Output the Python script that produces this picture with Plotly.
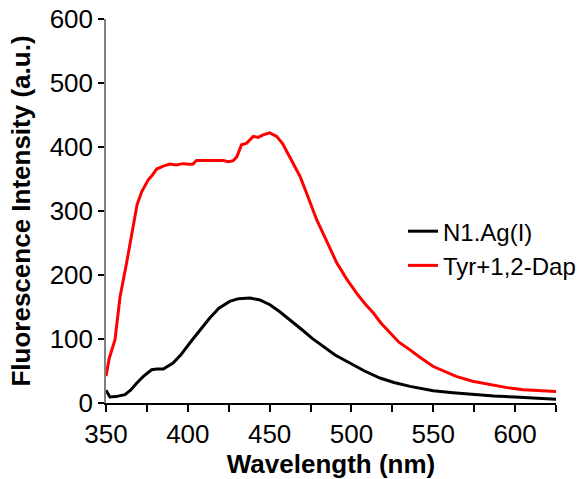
import plotly.graph_objects as go

# N1.Ag(I) (black)
wl_black = [350, 352.4, 356, 361.6, 365, 368.7, 373, 377.9, 381, 385, 391, 396, 401.2, 407, 413.4,
            419, 425.6, 431, 438, 444, 450.2, 456, 462.5, 470, 476, 482.8, 490, 499, 508, 517.4,
            526, 535.8, 550, 562, 574.5, 587, 600, 612, 625]
int_black = [20, 9.4, 10, 13, 20, 31, 42, 52, 53, 53, 62.5, 76, 93.7, 113, 132.8,
             148, 158.8, 163, 164, 161, 153.6, 143, 130, 114, 101, 88.4, 75, 62.5, 50, 39,
             32, 26, 19, 16, 13, 11, 9.4, 7.5, 6]

# Tyr+1,2-Dap (red)
wl_red = [350, 352, 355.5, 358.6, 362.6, 366, 369, 371.8, 373, 375.9, 378, 381, 385, 389, 393, 397,
          401, 403, 405.3, 410, 415, 418, 421.5, 425, 427.7, 430, 432.8, 436, 440, 443, 446, 450,
          452, 454.3, 458, 462.3, 468.6, 473, 478.8, 485, 491, 497, 503, 508, 513.4, 518, 523.6,
          529, 535.8, 542, 550, 557, 564, 574, 584.5, 595, 605, 615, 625]
int_red = [42, 70, 99, 166, 219, 270, 310, 330, 335, 349, 355, 365.6, 370, 373.4, 372, 374,
           373, 373, 379, 379, 378, 379, 379, 377, 378.6, 385, 403.6, 406, 416.6, 415, 419, 422,
           419, 416.6, 405, 385, 354, 325, 286, 252, 219, 194, 172, 156, 140.6, 125, 109,
           95, 83, 71, 57, 49, 41.6, 34, 28.6, 24, 20.8, 19, 18]

x_ticks = [350, 400, 450, 500, 550, 600]
y_ticks = [0, 100, 200, 300, 400, 500, 600]

FONT = "Liberation Sans, Arial, sans-serif"

fig = go.Figure()
fig.add_trace(go.Scatter(x=wl_black, y=int_black, mode="lines", name="N1.Ag(I)",
                         line=dict(color="black", width=3)))
fig.add_trace(go.Scatter(x=wl_red, y=int_red, mode="lines", name="Tyr+1,2-Dap",
                         line=dict(color="#ff0000", width=3)))

fig.update_layout(
    width=600, height=479,
    margin=dict(l=106, r=44, t=19, b=76),
    plot_bgcolor="white", paper_bgcolor="white",
    font=dict(family=FONT, size=26, color="black"),
    showlegend=True,
    legend=dict(x=0.66, y=0.505, xanchor="left", yanchor="top",
                font=dict(family=FONT, size=24, color="black"),
                bgcolor="rgba(0,0,0,0)", itemwidth=30, tracegroupgap=0),
    xaxis=dict(range=[350, 625], tickvals=x_ticks, ticktext=[str(v) for v in x_ticks],
               automargin=False, ticklabeloverflow="allow",
               showgrid=False, zeroline=False, showline=True, linecolor="black", linewidth=1.5,
               ticks="outside", ticklen=7, tickcolor="black", tickwidth=1.5,
               minor=dict(dtick=25, tick0=350, ticks="outside", ticklen=7, tickcolor="black", tickwidth=1.5),
               tickfont=dict(size=26),
               title=dict(text="<b>Wavelength (nm)</b>", font=dict(size=26), standoff=6)),
    yaxis=dict(range=[0, 600], tickvals=y_ticks, ticktext=[str(v) for v in y_ticks],
               automargin=False, ticklabeloverflow="allow",
               showgrid=False, zeroline=False, showline=True, linecolor="#808080", linewidth=1.5,
               ticks="outside", ticklen=6, tickcolor="black", tickwidth=1.5,
               tickfont=dict(size=26),
               title=dict(text="<b>Fluorescence Intensity (a.u.)</b>", font=dict(size=26), standoff=12)),
)

fig.write_html("out.html", config={"displayModeBar": False},
               post_script="document.body.style.margin='0';")
